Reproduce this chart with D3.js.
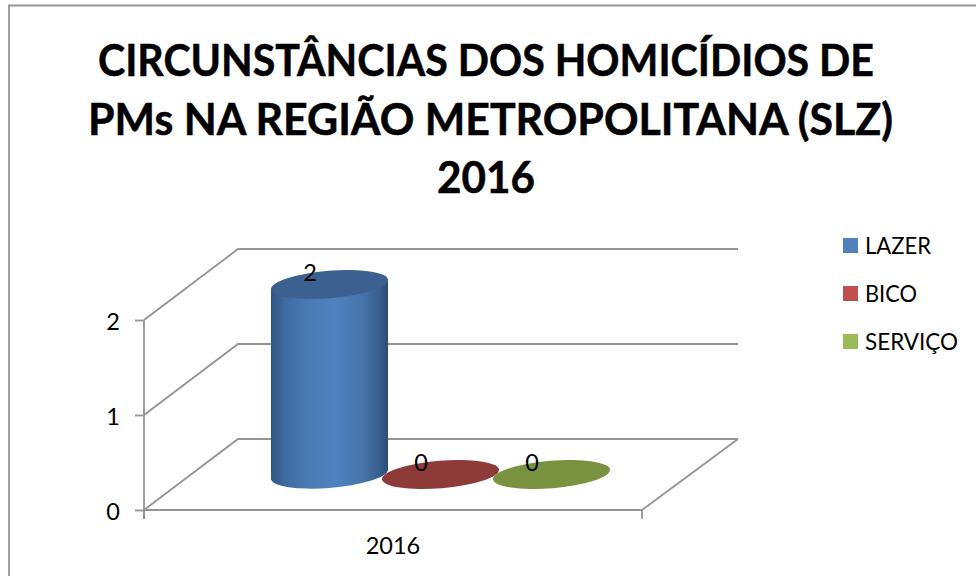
<!DOCTYPE html>
<html>
<head>
<meta charset="utf-8">
<script src="https://cdn.jsdelivr.net/npm/d3@7"></script>
<style>
html,body{margin:0;padding:0;background:#fff;}
svg{display:block;font-family:Lato,"Open Sans",sans-serif;}
</style>
</head>
<body>
<div id="chart"></div>
<script>
// data
var titleLines=["CIRCUNSTÂNCIAS DOS HOMICÍDIOS DE","PMs NA REGIÃO METROPOLITANA (SLZ)","2016"];
var categories=["2016"];
var seriesNames=["LAZER","BICO","SERVIÇO"];
var seriesValues=[2,0,0];
var yTicks=[0,1,2];
var legendColors=["#4f81bd","#c0504d","#9bbb59"];
var topColors=["#3c6190","#8e3a38","#78923f"];

// title layout, lato runs a bit different from the original font so each line gets its measured width
var titleBaselines=[76,134.5,193];
var titleWidths=[776,805,98];
var legendWidths=[66,52,93];

var width=976,height=576;
var depthX=94,depthY=-71;
var gridColor="#949494";
var lineWidth=1.8;

var svg=d3.select("#chart").append("svg")
	.attr("width",width)
	.attr("height",height);

// frame, open at right and bottom of the crop
svg.append("path")
	.attr("d","M9,576V5.5H976")
	.attr("fill","none")
	.attr("stroke",gridColor)
	.attr("stroke-width",lineWidth);

// title
svg.append("g").selectAll("text")
	.data(titleLines)
	.enter()
	.append("text")
	.attr("x",function(d,i){ return [486,490.5,486][i]; })
	.attr("y",function(d,i){ return titleBaselines[i]; })
	.attr("text-anchor","middle")
	.attr("textLength",function(d,i){ return titleWidths[i]; })
	.attr("lengthAdjust","spacingAndGlyphs")
	.style("font-size","43px")
	.style("font-weight","bold")
	.style("stroke","#000")
	.style("stroke-width","0.5px")
	.text(function(d){ return d; });

var x=d3.scaleBand().domain(categories).range([144,642]);
var y=d3.scaleLinear().domain([0,2]).range([510,320]);
var xSeries=d3.scalePoint().domain(seriesNames).range([329.5,551.5]);

// back wall and side wall gridlines
svg.append("g").selectAll("path")
	.data(yTicks)
	.enter()
	.append("path")
	.attr("d",function(d){
		var p=d3.path();
		p.moveTo(x.range()[0],y(d));
		p.lineTo(x.range()[0]+depthX,y(d)+depthY);
		p.lineTo(x.range()[1]+depthX+2,y(d)+depthY);
		return p.toString();
	})
	.attr("fill","none")
	.attr("stroke",gridColor)
	.attr("stroke-width",lineWidth);

// floor right edge
svg.append("line")
	.attr("x1",x.range()[1])
	.attr("y1",y(0))
	.attr("x2",x.range()[1]+depthX+2)
	.attr("y2",y(0)+depthY)
	.attr("stroke",gridColor)
	.attr("stroke-width",lineWidth);

// axes
var yAxis=svg.append("g")
	.attr("transform","translate("+x.range()[0]+",0)")
	.call(d3.axisLeft(y).tickValues(yTicks).tickFormat(d3.format("d")).tickSize(9).tickPadding(15));
var xAxis=svg.append("g")
	.attr("transform","translate(0,"+y(0)+")")
	.call(d3.axisBottom(x).tickSize(0).tickPadding(27));
xAxis.append("g").selectAll("line")
	.data(x.range())
	.enter()
	.append("line")
	.attr("x1",function(d){ return d; })
	.attr("x2",function(d){ return d; })
	.attr("y1",0)
	.attr("y2",9);
svg.selectAll(".domain").attr("stroke",gridColor).attr("stroke-width",lineWidth);
svg.selectAll("g line").attr("stroke",gridColor).attr("stroke-width",lineWidth);
svg.selectAll("g.tick text").attr("fill","#000").style("font-size","23.5px").style("font-family","Lato,sans-serif");
yAxis.selectAll("g.tick text").attr("dy","0.42em");
xAxis.select(".domain").attr("d","M"+x.range()[0]+",0H"+x.range()[1]);
yAxis.select(".domain").attr("d","M0,"+y(2)+"V"+(y(0)+9));

// cylinders
var rx=58.7,ry=13.7,tilt=-4.66,halfW=58.5,halfH=4.5;
var defs=svg.append("defs");
var grad=defs.append("linearGradient").attr("id","blueSide");
grad.selectAll("stop")
	.data([[0,"#2f5583"],[0.12,"#3f6b9f"],[0.3,"#4a79b1"],[0.55,"#4f82c0"],[0.8,"#4572a8"],[0.93,"#375d8c"],[1,"#2b4d75"]])
	.enter()
	.append("stop")
	.attr("offset",function(d){ return d[0]; })
	.attr("stop-color",function(d){ return d[1]; });

var floorY=y(0)+depthY/2;
var bars=svg.append("g").selectAll("g")
	.data(seriesNames)
	.enter()
	.append("g");

bars.each(function(d,i){
	var cx=xSeries(d);
	var h=y(0)-y(seriesValues[i]);
	var g=d3.select(this);
	if(h>0){
		var arc="A"+rx+","+ry+" "+tilt+" 0 0 ";
		g.append("path")
			.attr("d","M"+(cx-halfW)+","+(floorY-h+halfH)
				+"V"+(floorY+halfH)
				+arc+(cx+halfW)+","+(floorY-halfH)
				+"V"+(floorY-h-halfH)
				+"Z")
			.attr("fill","url(#blueSide)");
	}
	g.append("ellipse")
		.attr("rx",rx)
		.attr("ry",ry)
		.attr("transform","translate("+cx+","+(floorY-h)+") rotate("+tilt+")")
		.attr("fill",topColors[i]);
	g.append("text")
		.attr("x",cx-19.5)
		.attr("y",floorY-h-4)
		.attr("text-anchor","middle")
		.style("font-size","23.5px")
		.text(seriesValues[i]);
});

// legend
var legend=svg.append("g").selectAll("g")
	.data(seriesNames)
	.enter()
	.append("g")
	.attr("transform",function(d,i){ return "translate(843,"+(238+i*48)+")"; });
legend.append("rect")
	.attr("width",15)
	.attr("height",15)
	.attr("fill",function(d,i){ return legendColors[i]; });
legend.append("text")
	.attr("x",22)
	.attr("y",16)
	.attr("textLength",function(d,i){ return legendWidths[i]; })
	.attr("lengthAdjust","spacingAndGlyphs")
	.style("font-size","23.5px")
	.text(function(d){ return d; });
</script>
</body>
</html>
